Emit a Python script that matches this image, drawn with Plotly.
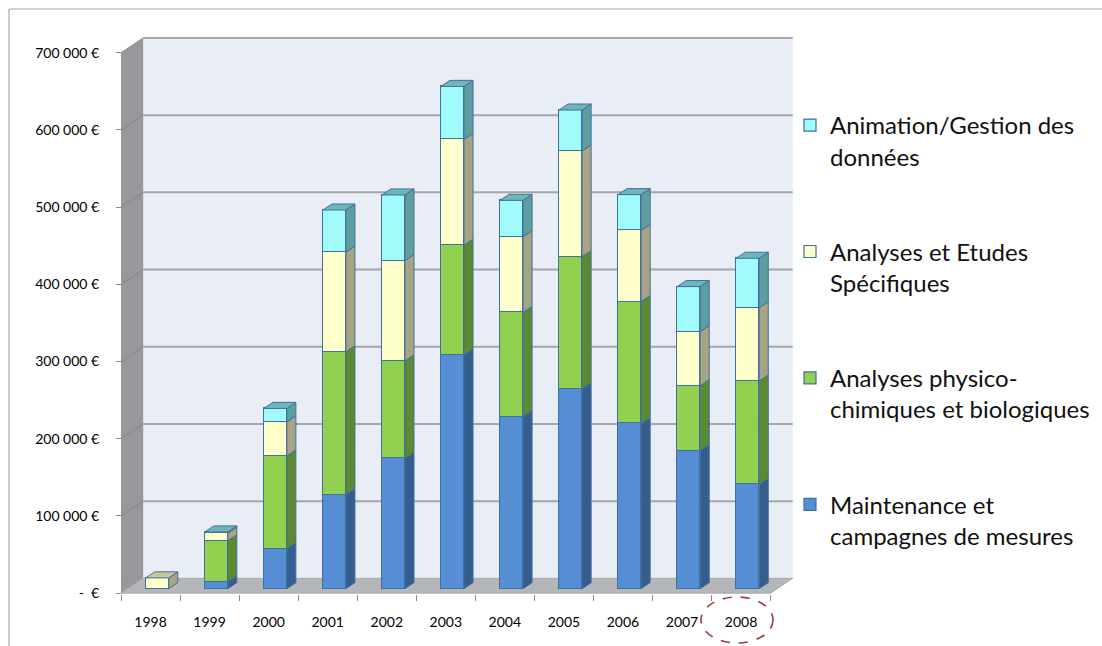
import plotly.graph_objects as go

# ---- data (EUR per year, stacked) ----
years = [1998, 1999, 2000, 2001, 2002, 2003, 2004, 2005, 2006, 2007, 2008]
year_labels = [str(y) for y in years]
maintenance = [0, 9000, 52000, 122000, 169000, 303000, 223000, 259000, 214000, 179000, 135000]
physico_chimiques = [0, 53000, 120000, 185000, 126000, 142000, 135000, 171000, 158000, 84000, 134000]
etudes_specifiques = [14000, 10000, 44000, 129000, 130000, 137000, 98000, 137000, 92000, 70000, 95000]
animation_gestion = [0, 1500, 17500, 54500, 85000, 68600, 47000, 53000, 46400, 58300, 64000]

series_names = [
    "Maintenance et<br>campagnes de mesures",
    "Analyses physico-<br>chimiques et biologiques",
    "Analyses et Etudes<br>Spécifiques",
    "Animation/Gestion des<br>données",
]
series_values = [maintenance, physico_chimiques, etudes_specifiques, animation_gestion]

y_tick_values = [0, 100000, 200000, 300000, 400000, 500000, 600000, 700000]
y_tick_text = ["-\u00a0\u00a0€", "100\u00a0000 €", "200\u00a0000 €", "300\u00a0000 €",
               "400\u00a0000 €", "500\u00a0000 €", "600\u00a0000 €", "700\u00a0000 €"]

# ---- styling ----
FRONT_COLORS = ["#558ED5", "#92D050", "#FFFFCC", "#A2FBFB"]
SIDE_COLORS = ["#355D8D", "#5B8A31", "#A6A483", "#5F9EA0"]
TOP_COLORS = ["#4A78B0", "#73A840", "#C9C7A0", "#6DB7B8"]
EDGE = "#41709F"

# ---- pseudo-3D geometry (axis units) ----
BAR_W = 0.39
DEPTH_X = 0.3753        # horizontal shift for a full depth step (category units)
DEPTH_Y = 19171         # vertical shift for a full depth step (EUR units)
BAR_DEPTH = 0.41
FRONT = -0.30           # front plane relative to the bar plane
BACK = 0.70             # back wall relative to the bar plane

X_LO, X_HI = 1997.0313, 2008.886
Y_LO, Y_HI = -6865, 723705

fx = FRONT * DEPTH_X
fy = FRONT * DEPTH_Y
bx = BACK * DEPTH_X
by = BACK * DEPTH_Y
ddx = BAR_DEPTH * DEPTH_X
ddy = BAR_DEPTH * DEPTH_Y

x_first = years[0] - 0.5
x_last = years[-1] + 0.5
y_top = y_tick_values[-1]

fig = go.Figure()

# front faces: stacked bars (legend lists the top segment first)
n_series = len(series_names)
for k, (name, vals, col) in enumerate(zip(series_names, series_values, FRONT_COLORS)):
    fig.add_trace(go.Bar(
        x=years, y=vals, name=name, width=BAR_W, legendgroup=name,
        legendrank=n_series - k,
        marker=dict(color=col, line=dict(color=EDGE, width=1.2)),
        hoverinfo="skip",
    ))

# side and top faces computed from the stacked values
bases = [0] * len(years)
tops = [None] * len(years)
for k, vals in enumerate(series_values):
    sx, sy = [], []
    for i, yr in enumerate(years):
        v = vals[i]
        if v <= 0:
            continue
        y0 = bases[i]
        y1 = y0 + v
        xr = yr + BAR_W / 2
        sx += [xr, xr + ddx, xr + ddx, xr, xr, None]
        sy += [y0, y0 + ddy, y1 + ddy, y1, y0, None]
        tops[i] = (k, y1)
        bases[i] = y1
    fig.add_trace(go.Scatter(
        x=sx, y=sy, mode="lines", fill="toself", fillcolor=SIDE_COLORS[k],
        line=dict(color=EDGE, width=1), showlegend=False, hoverinfo="skip",
    ))

for k in range(len(series_values)):
    tx, ty = [], []
    for i, yr in enumerate(years):
        if tops[i] is None or tops[i][0] != k:
            continue
        yt = tops[i][1]
        xl = yr - BAR_W / 2
        xr = yr + BAR_W / 2
        tx += [xl, xl + ddx, xr + ddx, xr, xl, None]
        ty += [yt, yt + ddy, yt + ddy, yt, yt, None]
    if tx:
        fig.add_trace(go.Scatter(
            x=tx, y=ty, mode="lines", fill="toself", fillcolor=TOP_COLORS[k],
            line=dict(color=EDGE, width=1), showlegend=False, hoverinfo="skip",
        ))

# anchor trace for the front-plane axes
fig.add_trace(go.Scatter(
    x=years, y=[0] * len(years), xaxis="x2", yaxis="y2", mode="markers",
    marker=dict(opacity=0), showlegend=False, hoverinfo="skip",
))

# ---- walls, floor and gridlines ----
shapes = []
lx_f = x_first + fx
lx_b = x_first + bx
rx_f = x_last + fx
rx_b = x_last + bx
# back wall
shapes.append(dict(type="rect", xref="x", yref="y", layer="below",
                   x0=lx_b, x1=rx_b, y0=by, y1=y_top + by,
                   fillcolor="#E9EDF6", line=dict(width=0)))
# left side wall
shapes.append(dict(type="path", xref="x", yref="y", layer="below",
                   path=f"M{lx_f},{fy} L{lx_f},{y_top + fy} L{lx_b},{y_top + by} L{lx_b},{by} Z",
                   fillcolor="#96989C", line=dict(width=0)))
# floor
shapes.append(dict(type="path", xref="x", yref="y", layer="below",
                   path=f"M{lx_f},{fy} L{rx_f},{fy} L{rx_b},{by} L{lx_b},{by} Z",
                   fillcolor="#B5B6BA", line=dict(color="#A8A9AD", width=1)))
# gridlines on back and side walls
for t in y_tick_values[1:]:
    shapes.append(dict(type="line", xref="x", yref="y", layer="below",
                       x0=lx_b, x1=rx_b, y0=t + by, y1=t + by,
                       line=dict(color="#A6A6A8", width=2)))
    shapes.append(dict(type="line", xref="x", yref="y", layer="below",
                       x0=lx_f, x1=lx_b, y0=t + fy, y1=t + by,
                       line=dict(color="#86888C", width=1)))

# chart frame (top and left border)
W_PLOT, H_PLOT = 700, 564
L_M, T_M = 100, 30
def px_x(p):
    return (p - L_M) / W_PLOT
def px_y(p):
    return (T_M + H_PLOT - p) / H_PLOT
shapes.append(dict(type="line", xref="paper", yref="paper",
                   x0=px_x(9), x1=px_x(1102), y0=px_y(9), y1=px_y(9),
                   line=dict(color="#A6A6A6", width=1.2)))
shapes.append(dict(type="line", xref="paper", yref="paper",
                   x0=px_x(9), x1=px_x(9), y0=px_y(9), y1=px_y(646),
                   line=dict(color="#A6A6A6", width=1.2)))
# dashed ellipse around the last year label
shapes.append(dict(type="circle", xref="paper", yref="paper",
                   x0=px_x(701), x1=px_x(773), y0=px_y(597), y1=px_y(643),
                   line=dict(color="#9B3A3A", width=1.6, dash="dash")))

fig.update_layout(
    width=1102, height=646,
    margin=dict(l=L_M, r=1102 - L_M - W_PLOT, t=T_M, b=646 - T_M - H_PLOT,
                autoexpand=False),
    paper_bgcolor="white", plot_bgcolor="rgba(0,0,0,0)",
    barmode="stack", bargap=0,
    font=dict(family="Lato", color="#000000"),
    shapes=shapes,
    xaxis=dict(range=[X_LO, X_HI], visible=False),
    yaxis=dict(range=[Y_LO, Y_HI], visible=False),
    xaxis2=dict(overlaying="x", anchor="y", side="bottom",
                range=[X_LO - fx, X_HI - fx],
                tickvals=years, ticktext=year_labels, ticks="",
                ticklabelstandoff=18,
                showgrid=False, zeroline=False, showline=False,
                tickfont=dict(size=14, color="#000"),
                minor=dict(ticks="outside", ticklen=6, tick0=x_first, dtick=1,
                           tickcolor="#8C8C8C", showgrid=False)),
    yaxis2=dict(overlaying="y", anchor="free", position=px_x(121), side="left",
                range=[Y_LO - fy, Y_HI - fy],
                tickvals=y_tick_values, ticktext=y_tick_text,
                ticks="outside", ticklen=5, tickcolor="#8C8C8C",
                ticklabelstandoff=14,
                showgrid=False, zeroline=False, showline=False,
                tickfont=dict(size=14, color="#000")),
    legend=dict(x=px_x(790), y=px_y(103), xanchor="left", yanchor="top",
                traceorder="grouped", valign="top", tracegroupgap=61,
                font=dict(family="Lato", size=24, color="#111"),
                bgcolor="rgba(0,0,0,0)"),
)

fig.write_html("out.html")
